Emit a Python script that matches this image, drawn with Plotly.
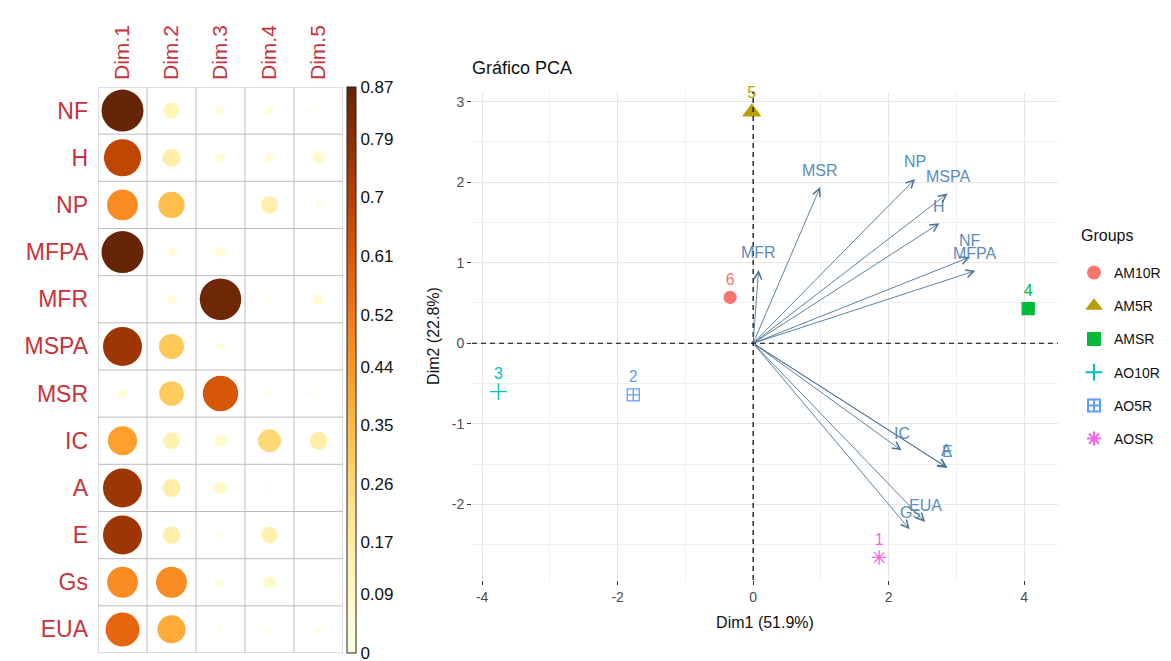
import plotly.graph_objects as go

# ---------------- corrplot: cos2 of variables on the first five dimensions
variables = ["NF", "H", "NP", "MFPA", "MFR", "MSPA", "MSR", "IC", "A", "E", "Gs", "EUA"]
dims = ["Dim.1", "Dim.2", "Dim.3", "Dim.4", "Dim.5"]
cos2_dim1 = [0.87, 0.68, 0.47, 0.87, 0.00, 0.75, 0.04, 0.42, 0.75, 0.75, 0.47, 0.57]
cos2_dim2 = [0.12, 0.16, 0.34, 0.04, 0.04, 0.31, 0.30, 0.14, 0.16, 0.15, 0.47, 0.39]
cos2_dim3 = [0.04, 0.04, 0.00, 0.05, 0.85, 0.03, 0.62, 0.07, 0.08, 0.01, 0.03, 0.01]
cos2_dim4 = [0.03, 0.04, 0.15, 0.00, 0.01, 0.00, 0.01, 0.26, 0.01, 0.14, 0.07, 0.01]
cos2_dim5 = [0.01, 0.07, 0.02, 0.00, 0.05, 0.00, 0.01, 0.16, 0.00, 0.00, 0.00, 0.02]
colorbar_ticks = [0, 0.09, 0.17, 0.26, 0.35, 0.44, 0.52, 0.61, 0.7, 0.79, 0.87]

# ---------------- biplot: individuals and variable coordinates
ind_labels = ["1", "2", "3", "4", "5", "6"]
ind_groups = ["AOSR", "AO5R", "AO10R", "AMSR", "AM5R", "AM10R"]
ind_x = [1.86, -1.77, -3.76, 4.06, -0.02, -0.34]
ind_y = [-2.66, -0.64, -0.60, 0.43, 2.87, 0.57]
group_order = ["AM10R", "AM5R", "AMSR", "AO10R", "AO5R", "AOSR"]
group_colors = ["#F8766D", "#B79F00", "#00BA38", "#00BFC4", "#619CFF", "#F564E3"]
group_symbols = ["circle", "triangle-up", "square", "cross-thin-open",
                 "square-cross-open", "asterisk-open"]

var_names = ["NF", "H", "NP", "MFPA", "MFR", "MSPA", "MSR", "IC", "A", "E", "Gs", "EUA"]
var_x = [3.20, 2.75, 2.39, 3.28, 0.08, 2.87, 0.99, 2.19, 2.86, 2.87, 2.31, 2.54]
var_y = [1.07, 1.49, 2.04, 0.90, 0.91, 1.86, 1.94, -1.33, -1.54, -1.55, -2.31, -2.22]

x_ticks = [-4, -2, 0, 2, 4]
y_ticks = [-2, -1, 0, 1, 2, 3]

W, H = 1171, 661
FONT = "Liberation Sans, Arial, sans-serif"
CMAX = 0.87
DMAX = 42  # diameter (px) of a circle at the top of the scale

fig = go.Figure()

# ---- corrplot circles
cols = [cos2_dim1, cos2_dim2, cos2_dim3, cos2_dim4, cos2_dim5]
xs, ys, vals = [], [], []
for j, col in enumerate(cols):
    for i, v in enumerate(col):
        xs.append(j)
        ys.append(i)
        vals.append(v)
sizes = [DMAX * (v / CMAX) ** 0.5 for v in vals]

fig.add_trace(go.Scatter(
    x=xs, y=ys, mode="markers", xaxis="x", yaxis="y", showlegend=False,
    marker=dict(
        size=sizes, color=vals, colorscale="YlOrBr", cmin=-0.0005, cmax=CMAX,
        opacity=1, line=dict(width=0),
        colorbar=dict(
            x=347 / W, xanchor="left", xpad=0,
            y=1 - 87 / H, yanchor="top", ypad=0,
            len=(653 - 87) / H, lenmode="fraction",
            thickness=9, outlinewidth=1, outlinecolor="#222",
            tickvals=colorbar_ticks,
            ticktext=[str(t) for t in colorbar_ticks],
            ticklabeloverflow="allow",
            ticks="", tickfont=dict(family=FONT, size=17, color="#111"),
        ),
    ),
    hoverinfo="skip",
))

# cell grid
shapes = []
for j in range(len(dims) + 1):
    shapes.append(dict(type="line", xref="x", yref="y", x0=j - 0.5, x1=j - 0.5,
                       y0=-0.5, y1=len(variables) - 0.5,
                       line=dict(color="#BDBDBD", width=1)))
for i in range(len(variables) + 1):
    shapes.append(dict(type="line", xref="x", yref="y", x0=-0.5, x1=len(dims) - 0.5,
                       y0=i - 0.5, y1=i - 0.5,
                       line=dict(color="#BDBDBD", width=1)))

# ---- biplot individuals
for g, c, s in zip(group_order, group_colors, group_symbols):
    idx = [k for k, gg in enumerate(ind_groups) if gg == g]
    msize = 15 if s == "triangle-up" else 12
    fig.add_trace(go.Scatter(
        x=[ind_x[k] for k in idx], y=[ind_y[k] for k in idx],
        text=[ind_labels[k] for k in idx],
        mode="markers+text", textposition="top center", cliponaxis=False,
        textfont=dict(family=FONT, size=16, color=c),
        xaxis="x2", yaxis="y2", name=g, legendgroup=g,
        marker=dict(symbol=s, size=msize, color=c, opacity=1,
                    line=dict(color=c, width=1.3)),
    ))

# dashed reference lines through the origin
shapes.append(dict(type="line", xref="x2", yref="y2 domain", x0=0, x1=0, y0=0, y1=1,
                   line=dict(color="black", width=1.2, dash="5px,4px")))
shapes.append(dict(type="line", xref="x2 domain", yref="y2", x0=0, x1=1, y0=0, y1=0,
                   line=dict(color="black", width=1.2, dash="5px,4px")))

# ---- variable arrows and labels
annotations = []
for name, vx, vy in zip(var_names, var_x, var_y):
    annotations.append(dict(
        x=vx, y=vy, ax=0, ay=0, xref="x2", yref="y2", axref="x2", ayref="y2",
        text="", showarrow=True, arrowhead=5, arrowsize=1.7, arrowwidth=0.9,
        arrowcolor="#4A7396", standoff=0,
    ))
    annotations.append(dict(
        x=vx, y=vy, xref="x2", yref="y2", text=name, showarrow=False,
        yshift=17, font=dict(family=FONT, size=16, color="#5B8DB8"),
    ))

# title of the biplot
annotations.append(dict(text="Gráfico PCA", xref="paper", yref="paper",
                        x=470 / W, y=1 - 68 / H, xanchor="left", yanchor="middle",
                        showarrow=False, font=dict(family=FONT, size=18, color="#111")))
# legend heading
annotations.append(dict(text="Groups", xref="paper", yref="paper",
                        x=1079 / W, y=1 - 236 / H, xanchor="left", yanchor="middle",
                        showarrow=False, font=dict(family=FONT, size=16, color="#111")))

grid_major = "#E6E6E6"
grid_minor = "#F0F0F0"

fig.update_layout(
    width=W, height=H, margin=dict(l=0, r=0, t=0, b=0),
    autosize=False,
    paper_bgcolor="white", plot_bgcolor="white",
    font=dict(family=FONT),
    shapes=shapes, annotations=annotations,
    xaxis=dict(
        domain=[98 / W, 343 / W], range=[-0.5, len(dims) - 0.5],
        side="top", tickvals=list(range(len(dims))), ticktext=dims,
        tickangle=-90, tickfont=dict(family=FONT, size=21, color="#C8323C"),
        showgrid=False, zeroline=False, ticks="", ticklabelstandoff=6,
        fixedrange=True,
    ),
    yaxis=dict(
        domain=[1 - 653 / H, 1 - 87 / H], range=[len(variables) - 0.5, -0.5],
        tickvals=list(range(len(variables))), ticktext=variables,
        tickfont=dict(family=FONT, size=23, color="#C8323C"),
        showgrid=False, zeroline=False, ticks="", ticklabelstandoff=9,
        fixedrange=True,
    ),
    xaxis2=dict(
        domain=[472 / W, 1058 / W], range=[-4.15, 4.50], anchor="y2",
        tickvals=x_ticks, ticktext=[str(t) for t in x_ticks],
        ticks="outside", ticklen=4, tickwidth=1, tickcolor="#333",
        tickfont=dict(family=FONT, size=14, color="#4D4D4D"),
        showgrid=True, gridcolor=grid_major, gridwidth=1,
        minor=dict(tickvals=[-3, -1, 1, 3], showgrid=True,
                   gridcolor=grid_minor, gridwidth=1, ticks=""),
        zeroline=False, showline=False,
        title=dict(text="Dim1 (51.9%)", font=dict(family=FONT, size=16, color="#111"),
                   standoff=13),
    ),
    yaxis2=dict(
        domain=[1 - 580 / H, 1 - 92 / H], range=[-2.94, 3.12], anchor="x2",
        tickvals=y_ticks, ticktext=[str(t) for t in y_ticks],
        ticks="outside", ticklen=4, tickwidth=1, tickcolor="#333",
        tickfont=dict(family=FONT, size=14, color="#4D4D4D"),
        showgrid=True, gridcolor=grid_major, gridwidth=1,
        minor=dict(tickvals=[-2.5, -1.5, -0.5, 0.5, 1.5, 2.5], showgrid=True,
                   gridcolor=grid_minor, gridwidth=1, ticks=""),
        zeroline=False, showline=False,
        title=dict(text="Dim2 (22.8%)", font=dict(family=FONT, size=16, color="#111"),
                   standoff=8),
    ),
    legend=dict(
        x=1074 / W, xanchor="left", y=1 - 257 / H, yanchor="top",
        font=dict(family=FONT, size=14, color="#111"),
        tracegroupgap=12, bgcolor="rgba(0,0,0,0)", itemsizing="constant",
    ),
)

fig.write_html("out.html")
